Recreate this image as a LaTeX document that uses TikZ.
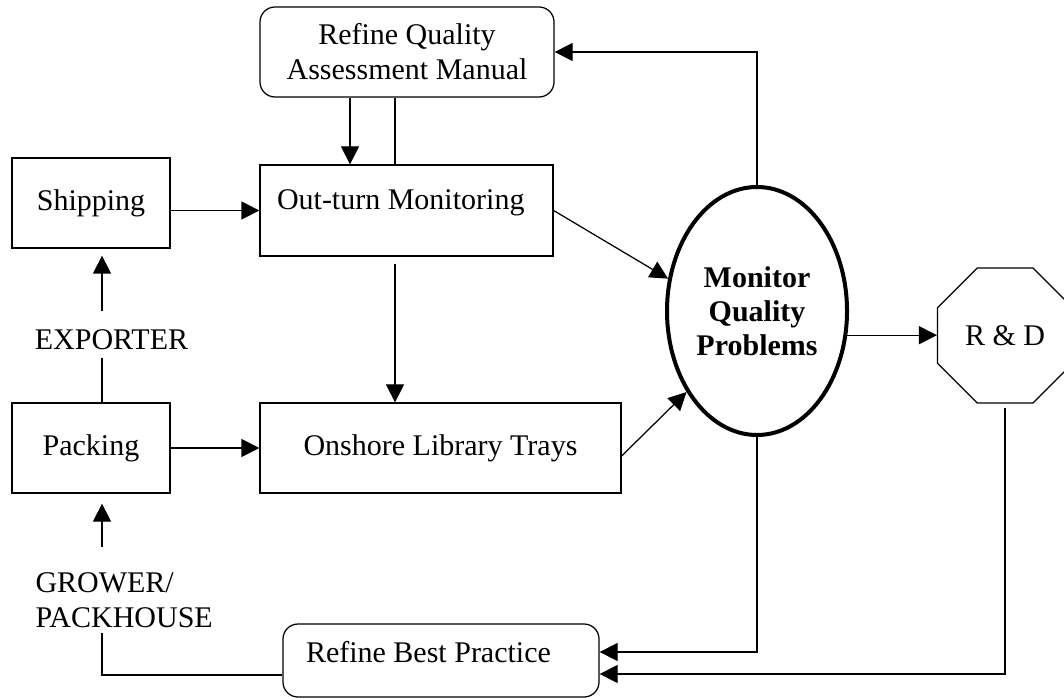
\documentclass[tikz,border=0pt]{standalone}
\usepackage{fontspec}
\setmainfont{Liberation Serif}
\usetikzlibrary{arrows.meta,calc,shapes.geometric}
\tikzset{
    procbox/.style={draw,line width=0.5pt,inner sep=0pt},
    softbox/.style={procbox,rounded corners=6pt,align=center},
    hub/.style={ellipse,draw,line width=1.6pt,inner sep=0pt,
        minimum width=72pt,minimum height=99.2pt,align=center,
        font=\fontsize{12}{13.6}\selectfont\bfseries},
    octbox/.style={regular polygon,regular polygon sides=8,draw,
        line width=0.5pt,inner sep=0pt,minimum size=58.4pt},
    tag/.style={inner sep=0pt,align=left},
    flowvec/.style={-{Triangle[length=7.2pt,width=7.2pt]},line width=0.5pt},
    flowline/.style={line width=0.5pt}
}

\begin{document}
\begin{tikzpicture}[x=0.4pt,y=-0.4pt,font=\fontsize{12}{14}\selectfont]
    \useasboundingbox (0,0) rectangle (1064,698);
    \clip (0,0) rectangle (1064,698);
    % Boxes
    \node[softbox,minimum width=117.6pt,minimum height=36pt] (qam) at (407,52) {Refine Quality\\Assessment Manual};
    \node[procbox,minimum width=63.2pt,minimum height=36pt] (ship) at (91,203) {Shipping};
    \node[procbox,minimum width=117.2pt,minimum height=36.4pt,text depth=8.6pt,text width=103.6pt,align=flush left] (outturn) at (406.5,210.5) {Out-turn Monitoring};
    \node[procbox,minimum width=63.2pt,minimum height=36pt] (pack) at (91,448) {Packing};
    \node[procbox,minimum width=144.4pt,minimum height=36pt] (onshore) at (440.5,448) {Onshore Library Trays};
    \node[softbox,minimum width=126.4pt,minimum height=29.2pt,text depth=6.8pt,text width=108pt,align=flush left] (bestprac) at (441,660.5) {Refine Best Practice};
    % Hub and R&D
    \node[hub] (monitor) at (757,311) {Monitor\\Quality\\Problems};
    \node[octbox] (rnd) at (1005,335.5) {R \& D};
    % Side labels
    \node[tag] (exporter) at (111.5,340) {EXPORTER};
    \node[tag,anchor=west] (grower) at (35,600) {GROWER/\\PACKHOUSE};
    \coordinate (lane) at (102,0);
    \coordinate (qamdrop) at (350,0);
    \coordinate (qamlift) at (395,0);
    % Left column
    \draw[flowvec,shorten <=7.2pt,shorten >=2.8pt] (lane |- exporter.north) -- (lane |- ship.south);
    \draw[flowline,shorten <=2.8pt] (lane |- exporter.south) -- (lane |- pack.north);
    \draw[flowvec,shorten <=10pt,shorten >=4pt] (lane |- grower.north) -- (lane |- pack.south);
    \draw[flowline,shorten <=2pt] (lane |- grower.south) |- ($(bestprac.west)+(0,14.5)$);
    \draw[flowvec] (outturn.west -| ship.east) -- (outturn.west);
    \draw[flowvec] (pack.east) -- (onshore.west);
    % Manual loop
    \draw[flowvec] (qamdrop |- qam.south) -- (qamdrop |- outturn.north);
    \draw[flowline] (qamlift |- outturn.north) -- (qamlift |- qam.south);
    \draw[flowvec] ($(qamlift |- outturn.south)+(0,7)$) -- (qamlift |- onshore.north);
    % Into the hub
    \draw[flowvec] (outturn.east) -- (monitor.160);
    \draw[flowvec] ($(onshore.east)+(0,8)$) -- (monitor.229);
    \draw[flowvec] (monitor.-15) -- (monitor.-15 -| rnd.west);
    % Feedback
    \draw[flowvec] (monitor.north) |- (qam.east);
    \draw[flowvec] (monitor.south) |- ($(bestprac.east)+(0,-8.5)$);
    \draw[flowvec] ($(rnd.south)+(0,4)$) |- ($(bestprac.east)+(0,13.5)$);
\end{tikzpicture}
\end{document}
